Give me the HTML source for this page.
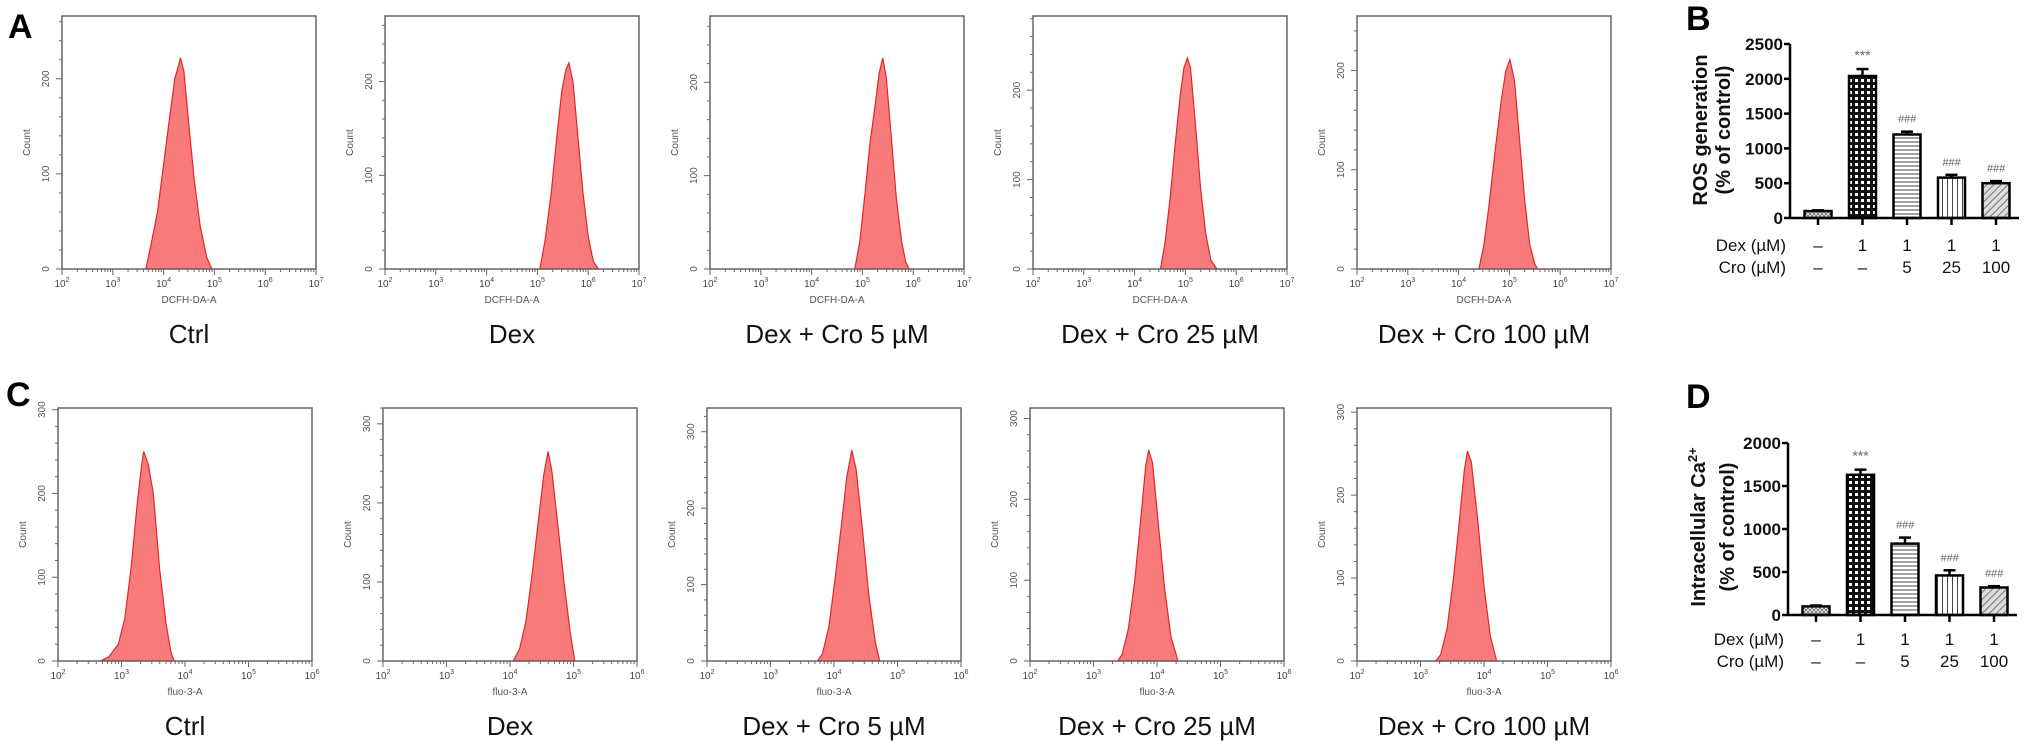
<!DOCTYPE html>
<html><head><meta charset="utf-8">
<style>
html,body{margin:0;padding:0;background:#fff;}
svg{display:block;font-family:"Liberation Sans",Arial,sans-serif;}
</style></head>
<body>
<svg id="fig" width="2031" height="752" viewBox="0 0 2031 752" xmlns="http://www.w3.org/2000/svg">
<defs>
<pattern id="pCtrl" width="4" height="4" patternUnits="userSpaceOnUse"><rect width="4" height="4" fill="#fff"/><path d="M0 0L4 4M4 0L0 4" stroke="#777" stroke-width="1"/></pattern>
<pattern id="pDots" width="6" height="6" patternUnits="userSpaceOnUse"><rect width="6" height="6" fill="#111"/><rect x="1" y="1" width="3" height="3" fill="#fff"/></pattern>
<pattern id="pH" width="4" height="4" patternUnits="userSpaceOnUse"><rect width="4" height="4" fill="#fff"/><path d="M0 2H4" stroke="#444" stroke-width="1"/></pattern>
<pattern id="pV" width="5" height="5" patternUnits="userSpaceOnUse"><rect width="5" height="5" fill="#fff"/><path d="M2.5 0V5" stroke="#444" stroke-width="1"/></pattern>
<pattern id="pDiag" width="5" height="5" patternUnits="userSpaceOnUse" patternTransform="rotate(45)"><rect width="5" height="5" fill="#ddd"/><path d="M0 0V5" stroke="#555" stroke-width="1.5"/></pattern>
</defs>
<g id="root"></g>
</svg>
<script>
// ---------- Histogram data (log10 intensity, count) ----------
const rowATitles = ["Ctrl","Dex","Dex + Cro 5 µM","Dex + Cro 25 µM","Dex + Cro 100 µM"];
const rowAYMax = [266,270,271,283,255];
const histA1 = [[3.65,0],[3.75,25],[3.88,60],[4.0,110],[4.12,160],[4.22,200],[4.3,215],[4.33,222],[4.4,208],[4.5,150],[4.6,95],[4.72,45],[4.85,12],[4.95,0]];
const histA2 = [[5.05,0],[5.15,30],[5.27,80],[5.38,140],[5.48,190],[5.56,212],[5.62,220],[5.7,200],[5.8,140],[5.9,80],[6.0,35],[6.1,8],[6.2,0]];
const histA3 = [[4.85,0],[4.95,30],[5.05,80],[5.15,135],[5.25,175],[5.33,210],[5.4,226],[5.47,205],[5.57,140],[5.67,75],[5.77,30],[5.85,8],[5.92,0]];
const histA4 = [[4.51,0],[4.6,30],[4.7,80],[4.8,140],[4.9,195],[4.97,225],[5.04,236],[5.1,225],[5.2,160],[5.3,90],[5.4,40],[5.5,10],[5.62,0]];
const histA5 = [[4.4,0],[4.5,25],[4.6,65],[4.72,120],[4.84,170],[4.93,200],[5.01,211],[5.1,190],[5.2,130],[5.3,70],[5.4,25],[5.5,5],[5.56,0]];
const rowCYMax = [302,320,331,313,305];
const histC1 = [[2.67,0],[2.8,5],[2.95,20],[3.05,50],[3.15,110],[3.25,190],[3.32,235],[3.35,250],[3.42,235],[3.5,200],[3.6,110],[3.7,45],[3.78,10],[3.83,0]];
const histC2 = [[4.05,0],[4.15,15],[4.25,50],[4.35,110],[4.45,180],[4.53,235],[4.6,265],[4.66,240],[4.75,175],[4.85,100],[4.95,35],[5.02,0]];
const histC3 = [[3.74,0],[3.82,10],[3.92,45],[4.02,110],[4.12,180],[4.2,240],[4.28,276],[4.35,250],[4.45,170],[4.55,85],[4.65,25],[4.72,0]];
const histC4 = [[3.38,0],[3.45,8],[3.55,40],[3.65,100],[3.75,180],[3.82,240],[3.87,261],[3.93,245],[4.02,170],[4.12,90],[4.22,30],[4.33,0]];
const histC5 = [[3.24,0],[3.32,8],[3.42,40],[3.52,100],[3.62,175],[3.69,230],[3.74,253],[3.8,240],[3.9,170],[4.0,90],[4.1,30],[4.2,0]];

// ---------- Bar chart data ----------
const barCategories = ["Ctrl","Dex","Dex+Cro5","Dex+Cro25","Dex+Cro100"];
const dexRow = ["–","1","1","1","1"];
const croRow = ["–","–","5","25","100"];
const rosValues = [100,2040,1200,580,500];
const rosErrors = [10,100,40,40,30];
const rosSig = ["","***","###","###","###"];
const rosTicks = [0,500,1000,1500,2000,2500];
const caValues = [100,1630,830,460,320];
const caErrors = [10,60,70,60,15];
const caSig = ["","***","###","###","###"];
const caTicks = [0,500,1000,1500,2000];

const NS="http://www.w3.org/2000/svg";
const root=document.getElementById('root');
function mk(tag,attrs,parent,text){const e=document.createElementNS(NS,tag);for(const k in attrs)e.setAttribute(k,attrs[k]);if(text!==undefined)e.textContent=text;(parent||root).appendChild(e);return e;}

function histogram(g,left,top,w,h,lo,hi,ymax,data,xlab,title,yticks){
  const bottom=top+h;
  const sx=v=>left+(v-lo)/(hi-lo)*w;
  const sy=v=>bottom-v/ymax*h;
  // fill
  let d="M"+sx(data[0][0])+" "+bottom;
  data.forEach(p=>{d+=" L"+sx(p[0]).toFixed(1)+" "+sy(p[1]).toFixed(1);});
  d+=" L"+sx(data[data.length-1][0])+" "+bottom+" Z";
  const hp=mk('path',{d:d,fill:'#f87a7a',stroke:'#e02828','stroke-width':'1.2'},g);
  
  
  // frame
  const fr=mk('rect',{x:left,y:top,width:w,height:h,fill:'none',stroke:'#666','stroke-width':'1.5'},g);
  
  
  // y ticks
  for(let v=0;v<=ymax;v+=20){
    const y=sy(v);const major=v%100===0;
    mk('line',{x1:left-(major?6:3),x2:left,y1:y,y2:y,stroke:'#666','stroke-width':'1'},g);
  }
  yticks.forEach(v=>{
    const y=sy(v);
    const t=mk('text',{x:left-13,y:y,'font-size':'10','fill':'#555','text-anchor':'middle',transform:`rotate(-90 ${left-13} ${y})`},g,String(v));
    
    
  });
  const ct=mk('text',{x:left-32,y:top+h/2,'font-size':'10','fill':'#555','text-anchor':'middle',transform:`rotate(-90 ${left-32} ${top+h/2})`},g,'Count');
  
  
  // x ticks
  for(let dcd=lo;dcd<=hi;dcd++){
    const x=sx(dcd);
    mk('line',{x1:x,x2:x,y1:bottom,y2:bottom+6,stroke:'#666','stroke-width':'1'},g);
    const t=mk('text',{x:x,y:bottom+18,'font-size':'10','fill':'#444','text-anchor':'middle'},g);
    
    
    const a=mk('tspan',{},t,'10');
    mk('tspan',{dy:'-5','font-size':'7'},t,String(dcd));
    if(dcd<hi){for(let m=2;m<=9;m++){const xm=sx(dcd+Math.log10(m));mk('line',{x1:xm,x2:xm,y1:bottom,y2:bottom+3,stroke:'#666','stroke-width':'1'},g);}}
  }
  const xl=mk('text',{x:left+w/2,y:bottom+34,'font-size':'10','fill':'#555','text-anchor':'middle'},g,xlab);
  
  
  const tt=mk('text',{x:left+w/2,y:bottom+74,'font-size':'26','fill':'#111','text-anchor':'middle'},g,title);
  
  
}

const histsA=[histA1,histA2,histA3,histA4,histA5];
const histsC=[histC1,histC2,histC3,histC4,histC5];
const leftsA=[62,385,710,1033,1357];
const leftsC=[58,383,707,1030,1357];
for(let i=0;i<5;i++){
  const g=mk('g',{});
  
  
  histogram(g,leftsA[i],16,254,253,2,7,rowAYMax[i],histsA[i],'DCFH-DA-A',rowATitles[i],[0,100,200]);
  const g2=mk('g',{});
  
  
  histogram(g2,leftsC[i],408,254,253,2,6,rowCYMax[i],histsC[i],'fluo-3-A',rowATitles[i],[0,100,200,300]);
}

const fills=['url(#pCtrl)','url(#pDots)','url(#pH)','url(#pV)','url(#pDiag)'];
function barChart(name,axisX,y0,yTop,maxV,ticks,values,errs,sig,rowY){
  const g=mk('g',{});
  
  
  const sy=v=>y0-v/maxV*(y0-yTop);
  const cx=i=>axisX+28+i*44.5;
  const bw=27;
  values.forEach((v,i)=>{
    const r=mk('rect',{x:cx(i)-bw/2,y:sy(v),width:bw,height:y0-sy(v),fill:fills[i],stroke:'#000','stroke-width':'2.5'},g);
    
    
    const ye=sy(v+errs[i]);
    mk('line',{x1:cx(i),x2:cx(i),y1:sy(v),y2:ye,stroke:'#000','stroke-width':'2.5'},g);
    mk('line',{x1:cx(i)-6,x2:cx(i)+6,y1:ye,y2:ye,stroke:'#000','stroke-width':'2.5'},g);
    if(sig[i]){
      const s=mk('text',{x:cx(i),y:ye-9,'font-size':sig[i]==='***'?'14':'11','fill':'#666','text-anchor':'middle','font-style':sig[i]==='###'?'italic':'normal'},g,sig[i]);
      
      
    }
    mk('line',{x1:cx(i),x2:cx(i),y1:y0,y2:y0+7,stroke:'#000','stroke-width':'2.5'},g);
    const t1=mk('text',{x:cx(i),y:rowY,'font-size':'17','fill':'#111','text-anchor':'middle'},g,dexRow[i]);
    
    
    const t2=mk('text',{x:cx(i),y:rowY+22,'font-size':'17','fill':'#111','text-anchor':'middle'},g,croRow[i]);
    
    
  });
  mk('line',{x1:axisX,x2:axisX,y1:yTop,y2:y0+1,stroke:'#000','stroke-width':'2.5'},g);
  mk('line',{x1:axisX,x2:axisX+229,y1:y0,y2:y0,stroke:'#000','stroke-width':'2.5'},g);
  ticks.forEach(v=>{
    mk('line',{x1:axisX-6,x2:axisX,y1:sy(v),y2:sy(v),stroke:'#000','stroke-width':'2.5'},g);
    const t=mk('text',{x:axisX-7,y:sy(v)+6,'font-size':'17','font-weight':'bold','fill':'#111','text-anchor':'end'},g,String(v));
    
    
  });
  const a=mk('text',{x:axisX-4,y:rowY,'font-size':'17','fill':'#111','text-anchor':'end'},g,'Dex (µM)');
  
  
  const b=mk('text',{x:axisX-4,y:rowY+22,'font-size':'17','fill':'#111','text-anchor':'end'},g,'Cro  (µM)');
  
  
  return g;
}
barChart('ros-bar-chart',1790,218,44,2500,rosTicks,rosValues,rosErrors,rosSig,251);
barChart('calcium-bar-chart',1788,615,443,2000,caTicks,caValues,caErrors,caSig,645);

// y titles
function rotText(x,y,txt,name,sup){
  const t=mk('text',{x:x,y:y,'font-size':'20','font-weight':'bold','fill':'#111','text-anchor':'middle',transform:`rotate(-90 ${x} ${y})`},root,txt);
  
  
  if(sup){mk('tspan',{dy:'-8','font-size':'13'},t,sup);}
}
rotText(1707,130,'ROS generation','ros-y-axis-title');
rotText(1730,130,'(% of control)','ros-y-axis-subtitle');
rotText(1705,527,'Intracellular Ca','calcium-y-axis-title','2+');
rotText(1734,527,'(% of control)','calcium-y-axis-subtitle');

// panel letters
[['A',8,38],['B',1686,30],['C',6,406],['D',1686,408]].forEach(p=>{
  const t=mk('text',{x:p[1],y:p[2],'font-size':'34','font-weight':'bold','fill':'#000'},root,p[0]);
  
  
});
</script>
</body></html>
